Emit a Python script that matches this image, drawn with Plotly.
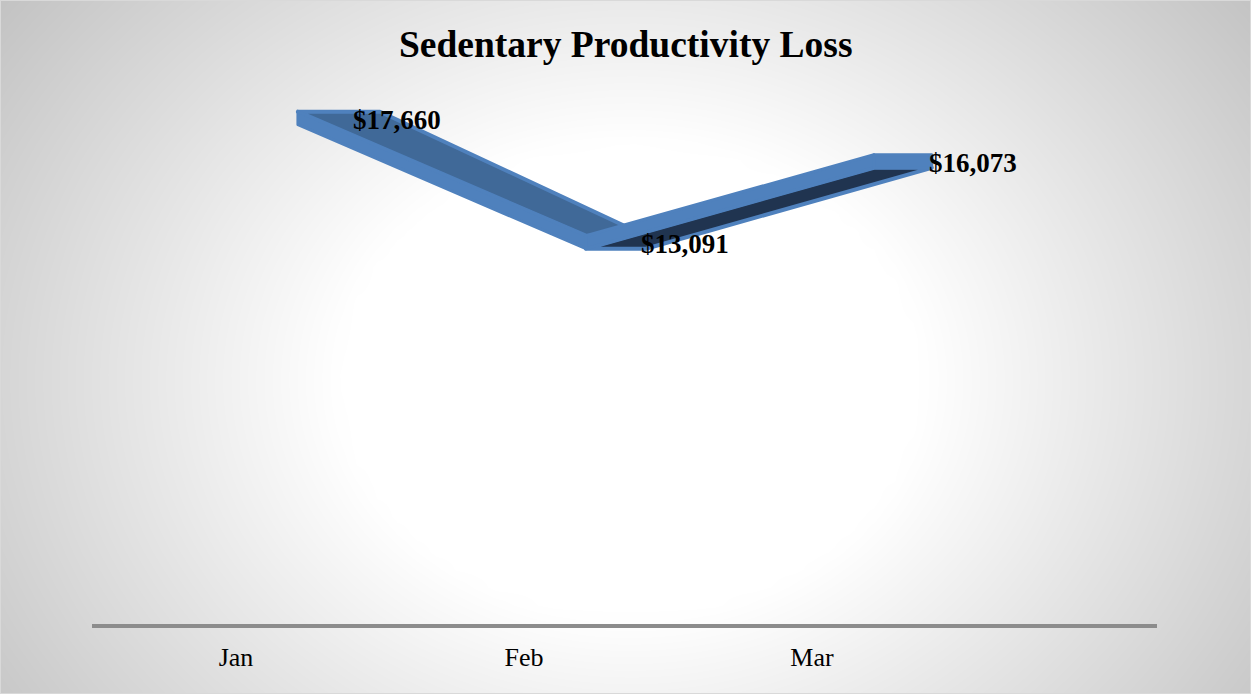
import numpy as np
import plotly.graph_objects as go

# ---- data ----
months = ["Jan", "Feb", "Mar"]
loss = [17660, 13091, 16073]
title_text = "Sedentary Productivity Loss"

# ---- style constants ----
W, H = 1251, 694
LIGHT = "#4F81BD"          # ribbon edge / front face
TOP_FACE = "rgb(64,105,152)"
BOTTOM_FACE = "rgb(32,52,80)"
FRONT_SHIFT = 0.215        # ribbon front edge offset from category (x units)
DEPTH = [0.285, 0.208, 0.201]  # receding depth of the ribbon per category (x units)
BAND = 480                 # thickness of the ribbon's front face (value units)
SERIF = "Liberation Serif, Times New Roman, serif"

X_RANGE = [-0.5, 3.198]
Y_RANGE = [-1216, 18828]
X_DOM = [92 / W, 1157 / W]
Y_DOM = [(H - 624) / H, (H - 80) / H]

fig = go.Figure()

# ---- radial grey-to-white backdrop on a full-page subplot ----
gx = np.linspace(0, W, 64)
gy = np.linspace(0, H, 40)
GX, GY = np.meshgrid(gx, gy)
t = np.sqrt(((GX - 630) / 640) ** 2 + ((GY - 380) / 520) ** 2)
shade = 255 - 78 * np.clip(t - 0.45, 0, None)
fig.add_trace(go.Heatmap(
    x=gx, y=gy, z=shade, zmin=190, zmax=255, zsmooth="best",
    colorscale=[[0, "rgb(190,190,190)"], [1, "rgb(255,255,255)"]],
    showscale=False, hoverinfo="skip", xaxis="x", yaxis="y",
))

# ---- 3D ribbon built from the series ----
fx = [i + FRONT_SHIFT for i in range(len(months))]
bx = [fx[i] + DEPTH[i] for i in range(len(months))]


def poly(xs, ys, fill, width):
    fig.add_trace(go.Scatter(
        x=xs + [xs[0]], y=ys + [ys[0]], mode="lines", fill="toself",
        fillcolor=fill, line=dict(color=LIGHT, width=width),
        hoverinfo="skip", showlegend=False, xaxis="x2", yaxis="y2",
    ))


for i in range(len(months) - 1):
    a, b = i, i + 1
    top_a, top_b = loss[a], loss[b]
    bot_a, bot_b = loss[a] - BAND, loss[b] - BAND
    if loss[b] < loss[a]:
        # descending: top face visible, front face below it
        poly([fx[a], bx[a], bx[b], fx[b]], [top_a, top_a, top_b, top_b], TOP_FACE, 4)
        poly([fx[a], fx[b], fx[b], fx[a]], [top_a, top_b, bot_b, bot_a], LIGHT, 3)
    else:
        # ascending: underside visible, front face above it
        poly([fx[a], fx[b], bx[b], bx[a]], [bot_a, bot_b, bot_b, bot_a], BOTTOM_FACE, 4)
        poly([fx[a], fx[b], fx[b], fx[a]], [top_a, top_b, bot_b, bot_a], LIGHT, 3)

# end cap of the last category
last = len(months) - 1
poly([fx[last], bx[last], bx[last], fx[last]],
     [loss[last], loss[last], loss[last] - BAND, loss[last] - BAND], LIGHT, 3)

# ---- value labels ----
for i, v in enumerate(loss):
    fig.add_annotation(
        x=fx[i], y=v, xref="x2", yref="y2", text=f"<b>${v:,}</b>",
        showarrow=False, xanchor="left", yanchor="middle", xshift=53, yshift=-8,
        font=dict(family=SERIF, size=27, color="#000000"),
    )

# ---- title ----
fig.add_annotation(
    x=625 / W, y=1 - 44 / H, xref="paper", yref="paper", text=f"<b>{title_text}</b>",
    showarrow=False, xanchor="center", yanchor="middle",
    font=dict(family=SERIF, size=37.5, color="#000000"),
)

# thin frame around the chart
fig.add_shape(type="rect", xref="paper", yref="paper", x0=0, y0=0, x1=1, y1=1,
              line=dict(color="#D9D9D9", width=2), fillcolor="rgba(0,0,0,0)")

fig.update_layout(
    width=W, height=H,
    margin=dict(l=0, r=0, t=0, b=0),
    paper_bgcolor="#FFFFFF", plot_bgcolor="rgba(0,0,0,0)",
    showlegend=False,
    xaxis=dict(domain=[0, 1], range=[0, W], visible=False, fixedrange=True),
    yaxis=dict(domain=[0, 1], range=[H, 0], visible=False, fixedrange=True),
    xaxis2=dict(
        domain=X_DOM, range=X_RANGE, anchor="y2",
        showline=True, linecolor="#8C8C8C", linewidth=3.5,
        showgrid=False, zeroline=False, ticks="",
        tickmode="array", tickvals=list(range(len(months))), ticktext=months,
        tickfont=dict(family=SERIF, size=26, color="#000000"),
        ticklabelstandoff=7,
    ),
    yaxis2=dict(domain=Y_DOM, range=Y_RANGE, anchor="x2", visible=False),
)

post = ("var s=document.createElement('style');"
        "s.textContent='.scatterlayer .js-line{stroke-linejoin:round;stroke-linecap:round;}';"
        "document.head.appendChild(s);")
fig.write_html("out.html", post_script=post)
